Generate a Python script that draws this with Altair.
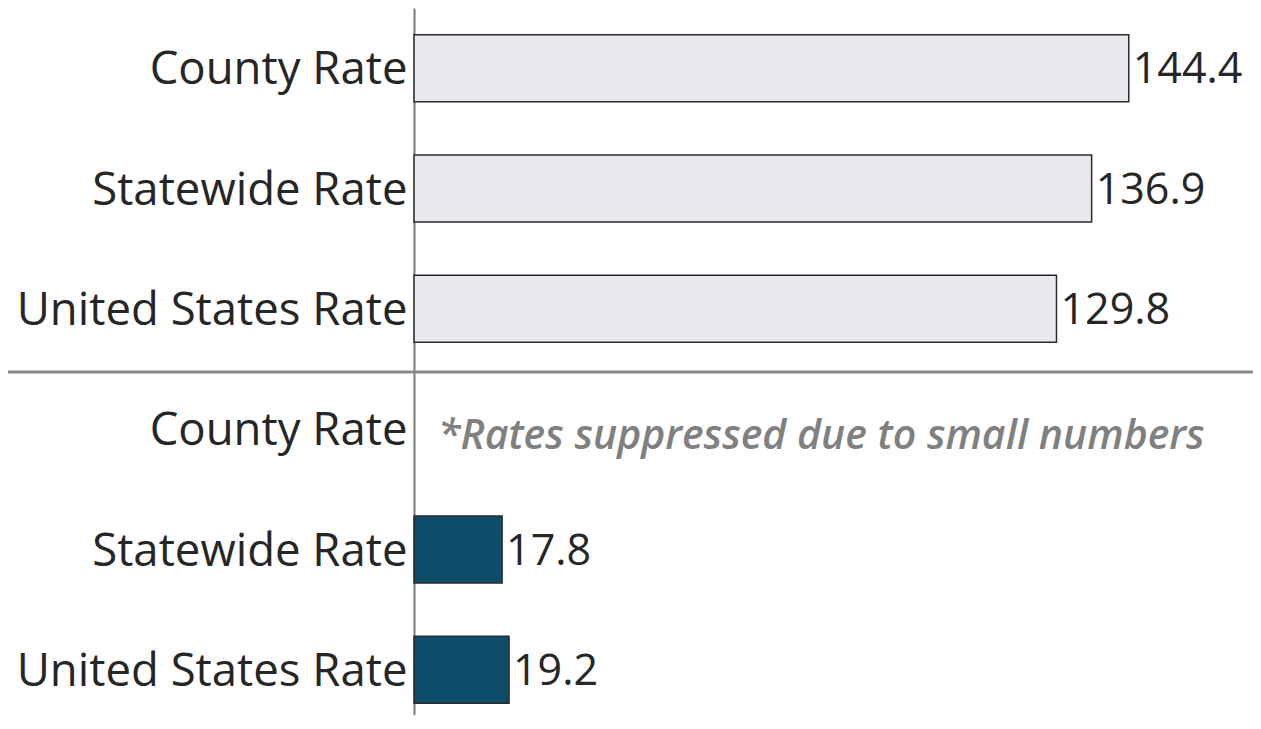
import altair as alt
import pandas as pd

# ---- data ----
row_keys = ["c1", "s1", "u1", "c2", "s2", "u2"]
row_labels = ["County Rate", "Statewide Rate", "United States Rate",
              "County Rate", "Statewide Rate", "United States Rate"]
groups = ["upper", "upper", "upper", "lower", "lower", "lower"]
values = [144.4, 136.9, 129.8, None, 17.8, 19.2]
value_text = ["144.4", "136.9", "129.8", "", "17.8", "19.2"]
note_row = "c2"
note_text = "*Rates suppressed due to small numbers"
separator_row = "c2"

df = pd.DataFrame({"key": row_keys, "label": row_labels, "group": groups,
                   "value": values, "vtext": value_text})
bars_df = df.dropna(subset=["value"])

FONT = "Open Sans"
TEXT_COLOR = "#262626"
PLOT_W = 839
LEFT = 406

label_map = "{" + ",".join(f"'{k}':'{l}'" for k, l in zip(row_keys, row_labels)) + "}"

y_scale = alt.Scale(domain=row_keys, range=[0, 722], paddingInner=0, paddingOuter=0)
y_enc = alt.Y("key:N", sort=row_keys, scale=y_scale,
              axis=alt.Axis(title=None, ticks=False, grid=False, domain=True,
                            domainColor="#7a7a7a", domainWidth=2,
                            labelExpr=f"{label_map}[datum.value]",
                            labelFont=FONT, labelFontSize=45.5,
                            labelColor=TEXT_COLOR, labelOffset=2,
                            labelPadding=7, labelLimit=600))
x_scale = alt.Scale(domain=[0, 169.5], nice=False, zero=True)

bars = alt.Chart(bars_df).mark_bar(size=67, stroke="#2b2b2b", strokeWidth=1.5).encode(
    y=y_enc,
    x=alt.X("value:Q", scale=x_scale, axis=None),
    fill=alt.Fill("group:N", scale=alt.Scale(domain=["upper", "lower"],
                                             range=["#EAE8EE", "#0E4D69"]), legend=None),
)

labels = alt.Chart(bars_df).mark_text(align="left", baseline="middle", dx=4, dy=2,
                                      font=FONT, fontSize=43,
                                      color=TEXT_COLOR).encode(
    y=alt.Y("key:N", sort=row_keys),
    x=alt.X("value:Q", scale=x_scale),
    text="vtext:N",
)

note = alt.Chart(pd.DataFrame({"key": [note_row], "note": [note_text]})).mark_text(
    align="left", baseline="middle", font=FONT, fontSize=41, fontStyle="italic",
    fontWeight=600, color="#808080", dy=8).encode(
    y=alt.Y("key:N", sort=row_keys),
    x=alt.value(24),
    text="note:N",
)

sep = alt.Chart(pd.DataFrame({"key": [separator_row]})).mark_rule(
    color="#8a8a8a", strokeWidth=3, yOffset=3).encode(
    y=alt.Y("key:N", sort=row_keys, bandPosition=0),
    x=alt.value(-LEFT),
    x2=alt.value(PLOT_W),
)

chart = alt.layer(bars, labels, note, sep).properties(
    width=PLOT_W, height=707,
    autosize=alt.AutoSizeParams(type="none"),
    padding={"left": LEFT, "top": 0, "right": 0, "bottom": 0},
).configure_view(stroke=None)

chart.save("out.html", embed_options={"renderer": "svg", "actions": False})
